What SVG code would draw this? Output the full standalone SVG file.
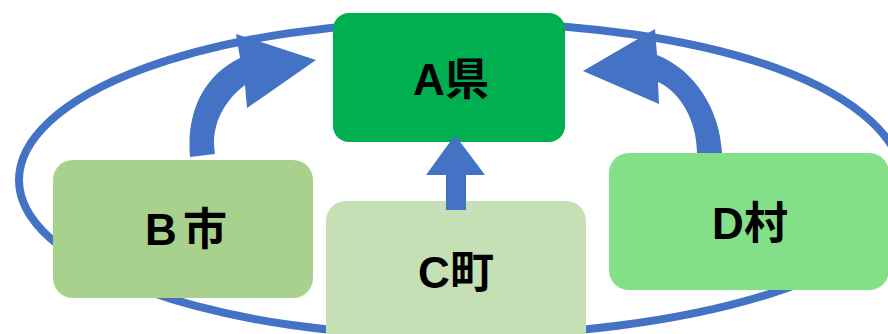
<svg xmlns="http://www.w3.org/2000/svg" width="888" height="334" viewBox="0 0 888 334">
<style>
.conn{fill:#4472C4;stroke:none}
.ring{fill:none;stroke:#4472C4;stroke-width:8}
.lbl{font-family:"Liberation Sans","Noto Sans CJK JP",sans-serif;font-weight:bold;font-size:44px;fill:#000;text-anchor:middle}
</style>
<rect width="888" height="334" fill="#fff"/>
<g id="connectors">
<path class="ring" d="M19 180 A428 158 0 0 1 447 22 C717 22 905 90 905 190 A455 146 0 0 1 450 336 A431 156 0 0 1 19 180 Z"/>
<path class="conn" d="M190 157 C186 110 205 75 240 58 L236 34 L316 60 L247 108 L245 85 C225 100 210 125 215 154 Z"/>
<path class="conn" d="M697 154 L722 153 C720 110 695 70 657 55 L655 29 L583 71 L659 104 L658 82 C680 92 697 120 697 154 Z"/>
</g>
<g id="nodeA">
<rect x="333" y="13" width="232" height="129" rx="16" fill="#00B050"/>
<text class="lbl" x="451" y="95">A県</text>
</g>
<g id="nodeB">
<rect x="53" y="160" width="260" height="138" rx="20" fill="#A9D18E"/>
<text class="lbl" x="186" y="245">B<tspan dx="6">市</tspan></text>
</g>
<g id="nodeC">
<rect x="326" y="201" width="260" height="150" rx="20" fill="#C5E0B4"/>
<text class="lbl" x="456" y="288">C町</text>
</g>
<g id="nodeD">
<rect x="609" y="153" width="280" height="137" rx="20" fill="#83DF88"/>
<text class="lbl" x="750" y="239">D村</text>
</g>
<g id="connector-C-A">
<polygon class="conn" points="455,135 485,175 466,175 466,210 446,210 446,175 426,175"/>
</g>
</svg>
